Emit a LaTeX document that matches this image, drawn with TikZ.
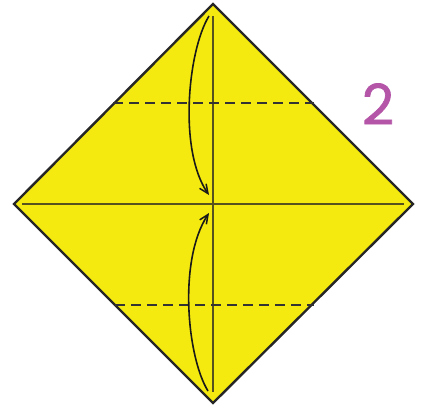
\documentclass[tikz,border=0pt]{standalone}
\usepackage{fontspec}
\newfontfamily\numfont[FakeBold=1.2]{Poppins}
\usetikzlibrary{arrows.meta}
\definecolor{paper}{HTML}{F5EA0F}
\definecolor{crease}{HTML}{55521F}
\definecolor{stepnum}{HTML}{B455A8}
\tikzset{
  edge/.style={draw=black!85, line width=2.4pt, line join=miter, fill=paper},
  creaseline/.style={draw=crease, line width=1.3pt},
  valley/.style={draw=black!80, line width=1.6pt, dash pattern=on 10pt off 6pt},
  foldarrow/.style={draw=black!90, line width=1.6pt, -{Straight Barb[length=9pt,width=8pt,line width=1.5pt]}}
}
\begin{document}
\begin{tikzpicture}[x=1pt,y=-1pt]
\useasboundingbox (0,0) rectangle (422,405);
\coordinate (T) at (213,4);
\coordinate (B) at (213,403);
\coordinate (L) at (14,204);
\coordinate (R) at (413,204);
\path[edge] (T) -- (R) -- (B) -- (L) -- cycle;
\coordinate (vt) at (213,16);
\coordinate (vb) at (213,392);
\coordinate (hl) at (22,204);
\coordinate (hr) at (404,204);
\draw[creaseline] (vt) -- (vb);
\draw[creaseline] (hl) -- (hr);
\coordinate (d1l) at (113,103);
\coordinate (d1r) at (314,103);
\coordinate (d2l) at (115,305);
\coordinate (d2r) at (314,305);
\draw[valley] (d1l) -- (d1r);
\draw[valley] (d2l) -- (d2r);
\coordinate (a1s) at (209,16);
\coordinate (a1e) at (209,195);
\coordinate (a2s) at (208,391);
\coordinate (a2e) at (209,213);
\draw[foldarrow] (a1s) .. controls (188,50) and (178,150) .. (a1e);
\draw[foldarrow] (a2s) .. controls (187,357) and (178,260) .. (a2e);
\node[text=stepnum, font=\numfont\fontsize{56}{56}\selectfont, inner sep=0pt] (num) at (378,104) {2};
\end{tikzpicture}
\end{document}
